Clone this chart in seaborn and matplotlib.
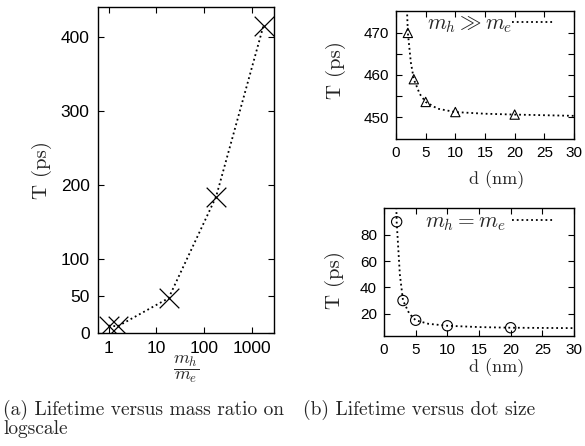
import matplotlib
matplotlib.use("Agg")
import matplotlib.pyplot as plt
import seaborn as sns
from matplotlib.ticker import FixedLocator, NullLocator, FixedFormatter

# (a) lifetime vs mass ratio
mass_ratio = [1.0, 1.55, 18, 178, 1750]
T_mass = [10, 9, 47, 184, 415]

# (b) lifetime vs dot size, m_h >> m_e
d_heavy = [2, 3, 5, 10, 20]
T_heavy = [470, 459, 453.6, 451.2, 450.6]
d_heavy_fit = [1.85, 2, 2.5, 3, 4, 5, 7, 10, 15, 20, 30]
T_heavy_fit = [475.5, 470, 463, 459, 455.5, 453.6, 452.0, 451.2, 450.8, 450.6, 450.3]

# (b) lifetime vs dot size, m_h = m_e
d_equal = [2, 3, 5, 10, 20]
T_equal = [90, 30, 15, 10.8, 9.3]
d_equal_fit = [1.95, 2, 2.5, 3, 4, 5, 7, 10, 15, 20, 30]
T_equal_fit = [101, 90, 50, 30, 20, 15, 12.3, 10.8, 9.8, 9.3, 9.0]

sns.set_style("ticks")
plt.rcParams.update({
    "font.family": ["Liberation Sans", "DejaVu Sans"],
    "mathtext.fontset": "cm",
    "xtick.direction": "in",
    "ytick.direction": "in",
    "xtick.top": True,
    "ytick.right": True,
    "xtick.major.size": 4,
    "ytick.major.size": 4,
    "xtick.minor.size": 4,
    "ytick.minor.size": 4,
    "xtick.major.width": 0.8,
    "ytick.major.width": 0.8,
    "xtick.minor.width": 0.8,
    "ytick.minor.width": 0.8,
    "axes.edgecolor": "black",
    "axes.linewidth": 1.0,
    "xtick.color": "black",
    "ytick.color": "black",
})

W, H = 585, 446
fig = plt.figure(figsize=(W / 100, H / 100), dpi=100)


def box(x0, y0, x1, y1):
    # pixel box -> figure fraction
    return [x0 / W, 1 - y1 / H, (x1 - x0) / W, (y1 - y0) / H]


tlabel = dict(family="cmr10", size=15, va="center")
dlabel = dict(family="cmr10", size=13, va="center")
dotted = dict(color="black", linestyle=":", linewidth=1.3)
leg = dict(loc="center right", frameon=False, markerfirst=False, fontsize=15.5,
           handlelength=1.9, borderpad=0, borderaxespad=0)

# ---- (a) ----
ax1 = fig.add_axes(box(98, 7, 274, 333))
sns.lineplot(x=mass_ratio, y=T_mass, ax=ax1, **dotted)
sns.scatterplot(x=mass_ratio, y=T_mass, ax=ax1, marker="x", s=200,
                color="black", linewidth=0.9)
ax1.set_xscale("log")
ax1.set_xlim(0.6, 2900)
ax1.set_ylim(0, 440)
ax1.xaxis.set_major_locator(FixedLocator([1, 10, 100, 1000]))
ax1.xaxis.set_major_formatter(FixedFormatter(["1", "10", "100", "1000"]))
ax1.xaxis.set_minor_locator(NullLocator())
ax1.set_yticks([0, 50, 100, 200, 300, 400])
ax1.tick_params(labelsize=12.5, pad=6)
ax1.set_ylabel("T (ps)", **tlabel)
ax1.yaxis.set_label_coords(-0.318, 0.5)
ax1.set_xlabel(r"$\dfrac{m_h}{m_e}$", size=13, va="center")
ax1.xaxis.set_label_coords(0.5, -0.11)

# ---- (b) top ----
ax2 = fig.add_axes(box(396, 11, 574, 139))
sns.lineplot(x=d_heavy_fit, y=T_heavy_fit, ax=ax2, label=r"$m_h \gg m_e$", **dotted)
sns.scatterplot(x=d_heavy, y=T_heavy, ax=ax2, marker="^", s=45,
                facecolor="none", edgecolor="black", linewidth=0.8)
ax2.set_xlim(0, 30)
ax2.set_ylim(444.8, 475.2)
ax2.set_xticks(range(0, 31, 5))
ax2.set_yticks([450, 460, 470])
ax2.yaxis.set_minor_locator(FixedLocator([455, 465]))
ax2.tick_params(labelsize=11, pad=5)
ax2.set_ylabel("T (ps)", **tlabel)
ax2.yaxis.set_label_coords(-0.34, 0.54)
ax2.set_xlabel("d (nm)", **dlabel)
ax2.xaxis.set_label_coords(0.567, -0.32)
ax2.legend(handletextpad=0.0, bbox_to_anchor=(0.882, 0.898), **leg)

# ---- (b) bottom ----
ax3 = fig.add_axes(box(384, 208, 574, 336))
sns.lineplot(x=d_equal_fit, y=T_equal_fit, ax=ax3, label=r"$m_h = m_e$", **dotted)
sns.scatterplot(x=d_equal, y=T_equal, ax=ax3, marker="o", s=55,
                facecolor="none", edgecolor="black", linewidth=0.8)
ax3.set_xlim(0, 30)
ax3.set_ylim(3, 100.5)
ax3.set_xticks(range(0, 31, 5))
ax3.set_yticks([20, 40, 60, 80])
ax3.tick_params(labelsize=11, pad=5)
ax3.set_ylabel("T (ps)", **tlabel)
ax3.yaxis.set_label_coords(-0.26, 0.44)
ax3.set_xlabel("d (nm)", **dlabel)
ax3.xaxis.set_label_coords(0.595, -0.25)
ax3.legend(handletextpad=0.3, bbox_to_anchor=(0.889, 0.89), **leg)

# captions
cap = dict(family="cmr10", size=14, va="center", ha="left")
fig.text(3 / W, 1 - 410 / H, "(a) Lifetime versus mass ratio on", **cap)
fig.text(3 / W, 1 - 429 / H, "logscale", **cap)
fig.text(303 / W, 1 - 410 / H, "(b) Lifetime versus dot size", **cap)

fig.savefig("out.png", dpi=100)
